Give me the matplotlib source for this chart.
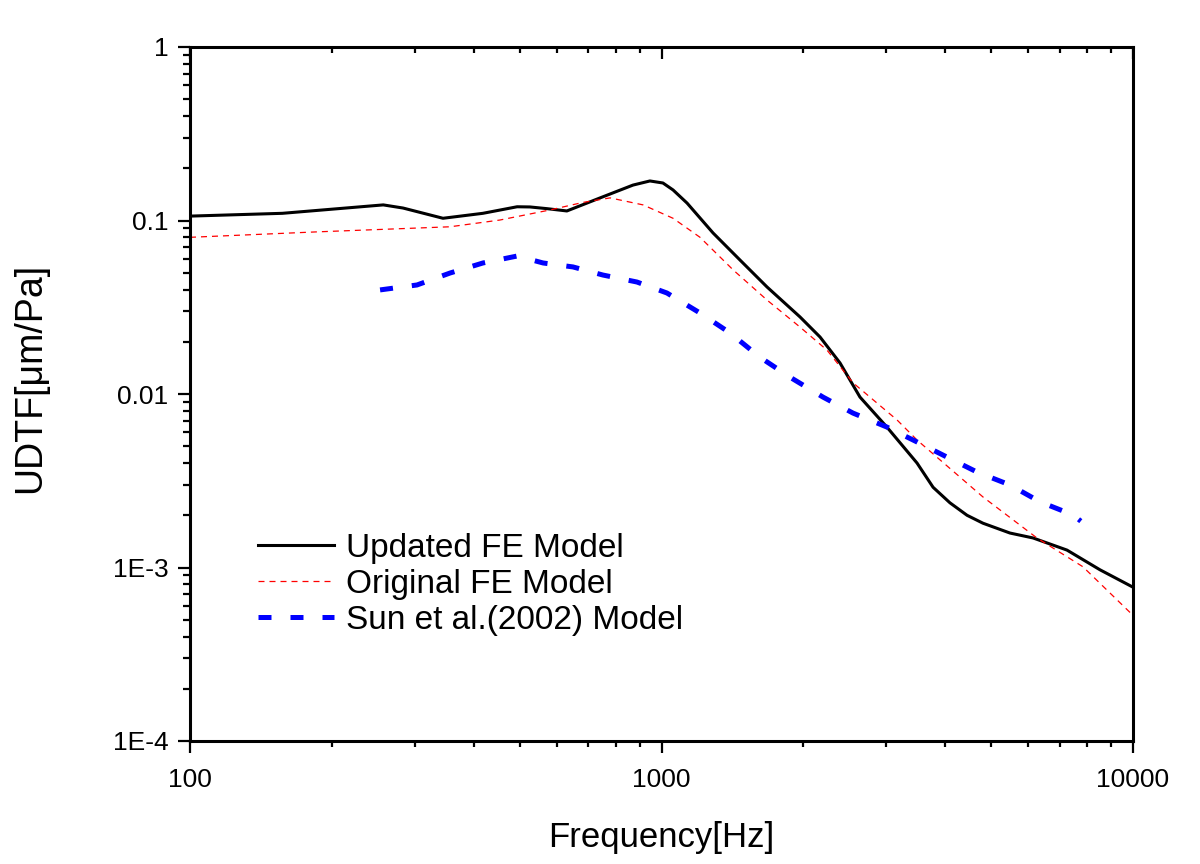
import matplotlib
matplotlib.use("Agg")
import matplotlib.pyplot as plt
import numpy as np

plt.rcParams['font.family'] = ['Liberation Sans', 'DejaVu Sans']

# Updated FE Model
upd_f = [100, 157, 257, 283, 344, 418, 494, 526, 572, 630, 741, 870, 945, 1007, 1058,
         1133, 1286, 1467, 1674, 1967, 2169, 2391, 2636, 3006, 3483, 3767, 4090, 4446,
         4806, 5483, 6138, 7244, 8511, 10000]
upd_v = [0.106, 0.110, 0.123, 0.118, 0.103, 0.110, 0.120, 0.1197, 0.117, 0.1135, 0.135,
         0.160, 0.169, 0.1645, 0.150, 0.126, 0.0848, 0.0592, 0.0414, 0.0278, 0.0213,
         0.0151, 0.0096, 0.00645, 0.0040, 0.0029, 0.00236, 0.0020, 0.0018, 0.00158,
         0.00148, 0.00126, 0.00097, 0.00077]

# Original FE Model
org_f = [100, 186, 356, 454, 580, 680, 778, 914, 1058, 1207, 1419, 1674, 1967, 2244,
         2548, 3160, 3483, 4806, 6255, 7830, 10000]
org_v = [0.080, 0.086, 0.092, 0.1006, 0.115, 0.127, 0.135, 0.123, 0.103, 0.080, 0.0519,
         0.0348, 0.0243, 0.0179, 0.0116, 0.00708, 0.00543, 0.00255, 0.00148, 0.00101,
         0.00053]

# Sun et al.(2002) Model
sun_f = [253, 303, 356, 418, 494, 561, 649, 751, 887, 1027, 1207, 1397, 1617, 1873,
         2200, 2548, 3006, 3483, 4031, 4668, 5483, 6351, 7460, 7750]
sun_v = [0.0398, 0.0425, 0.0498, 0.0569, 0.0624, 0.0569, 0.054, 0.0485, 0.0442, 0.0382,
         0.0293, 0.0225, 0.0163, 0.0125, 0.0096, 0.00776, 0.00645, 0.00529, 0.00433,
         0.00355, 0.00299, 0.00239, 0.00201, 0.00185]

yticks = [1e-4, 1e-3, 1e-2, 1e-1, 1]
ylabels = ["1E-4", "1E-3", "0.01", "0.1", "1"]
xticks = [100, 1000, 10000]
xlabels = ["100", "1000", "10000"]

fig = plt.figure(figsize=(12, 8.64), dpi=100)
ax = fig.add_axes([190/1200, 1-741/864, (1133-190)/1200, (741-47)/864])

ax.plot(upd_f, upd_v, color='black', lw=2.2, label='Updated FE Model')
ax.plot(org_f, org_v, color='#ff0000', lw=0.9, dashes=(4.8, 4.0), label='Original FE Model')
ax.plot(sun_f, sun_v, color='#0000ff', lw=3.6, dashes=(2.6, 3.8), dash_capstyle='butt',
        label='Sun et al.(2002) Model')

ax.set_xscale('log')
ax.set_yscale('log')
ax.set_xlim(100, 10000)
ax.set_ylim(1e-4, 1)
ax.set_xticks(xticks)
ax.set_xticklabels(xlabels)
ax.set_yticks(yticks)
ax.set_yticklabels(ylabels)
ax.minorticks_on()
ax.xaxis.set_minor_formatter(matplotlib.ticker.NullFormatter())
ax.yaxis.set_minor_formatter(matplotlib.ticker.NullFormatter())

for s in ax.spines.values():
    s.set_linewidth(2.2)

ax.tick_params(axis='both', which='major', direction='out', length=8.6, width=1.6,
               labelsize=19, pad=7)
ax.tick_params(axis='x', which='major', pad=10.5)
ax.tick_params(axis='y', which='minor', direction='out', length=5, width=1.6)
ax.tick_params(axis='x', which='minor', direction='out', length=4, width=1.6)
ax.tick_params(axis='x', which='both', top=True, labeltop=False)
# top ticks point inward
for t in ax.xaxis.get_major_ticks() + ax.xaxis.get_minor_ticks():
    t.tick2line.set_marker(matplotlib.lines.TICKDOWN)

ax.set_xlabel('Frequency[Hz]', fontsize=25, labelpad=21)
ax.set_ylabel('UDTF[\u03bcm/Pa]', fontsize=27)
ax.yaxis.set_label_coords((48 - 190) / 943, (741 - 378) / 694)

ax.legend(loc='upper left', bbox_to_anchor=(0.054, 0.324), frameon=False, fontsize=24,
          handlelength=2.3, handletextpad=0.35, labelspacing=0.15, borderpad=0)

fig.savefig('out.png', dpi=100)
